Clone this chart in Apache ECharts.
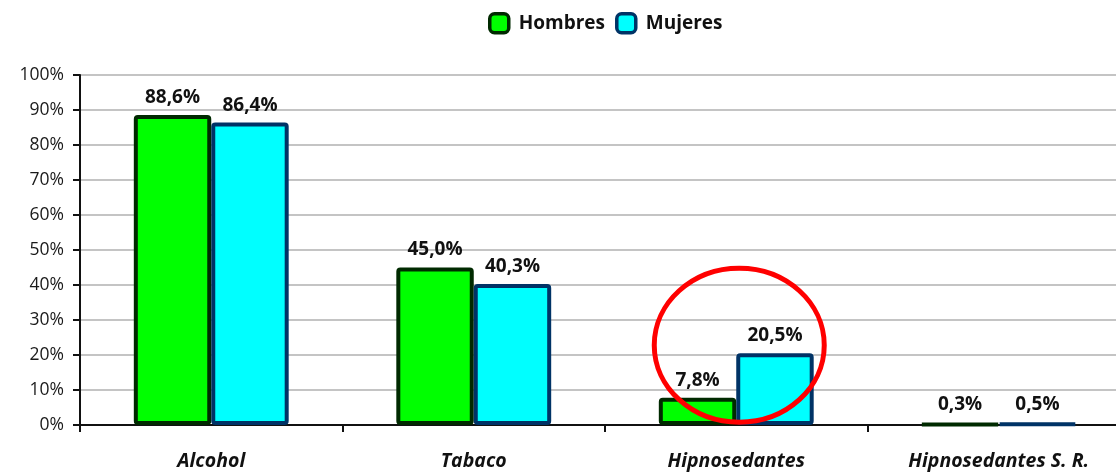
<!DOCTYPE html>
<html>
<head>
<meta charset="utf-8">
<script src="https://cdn.jsdelivr.net/npm/echarts@6/dist/echarts.min.js"></script>
<style>
  html, body { margin: 0; padding: 0; background: #ffffff; }
  #main { width: 1116px; height: 473px; }
</style>
</head>
<body>
<div id="main"></div>
<script>
const categories = ['Alcohol', 'Tabaco', 'Hipnosedantes', 'Hipnosedantes S. R.'];
const hombres = [88.6, 45.0, 7.8, 0.3];
const mujeres = [86.4, 40.3, 20.5, 0.5];
const yTicks = [0, 10, 20, 30, 40, 50, 60, 70, 80, 90, 100];

const fontFam = '"Open Sans", "Noto Sans", sans-serif';

function fmt(v) {
  return v.toFixed(1).replace('.', ',') + '%';
}

let myChart = echarts.init(document.getElementById('main'));
var option;

option = {
  animation: false,
  textStyle: { fontFamily: fontFam },
  legend: {
    left: 483,
    top: 7,
    itemWidth: 19,
    itemHeight: 19,
    itemGap: 10,
    icon: 'roundRect',
    data: ['Hombres', 'Mujeres'],
    itemStyle: { borderWidth: 3.5 },
    textStyle: {
      color: '#111111',
      fontSize: 19,
      fontWeight: 'bold',
      fontFamily: fontFam,
      padding: [0, 0, 0, 5]
    }
  },
  grid: {
    left: 80,
    right: -14,
    top: 75,
    bottom: 48,
    outerBoundsMode: 'none'
  },
  xAxis: {
    type: 'category',
    data: categories,
    axisLine: { lineStyle: { color: '#111111', width: 2 } },
    axisTick: { show: true, length: 7, lineStyle: { color: '#111111', width: 2 } },
    axisLabel: {
      margin: 26,
      color: '#111111',
      fontSize: 19.5,
      fontWeight: 'bold',
      fontStyle: 'italic',
      fontFamily: fontFam
    }
  },
  yAxis: {
    type: 'value',
    min: yTicks[0],
    max: yTicks[yTicks.length - 1],
    interval: 10,
    axisLine: { show: true, lineStyle: { color: '#111111', width: 2 } },
    axisTick: { show: true, length: 7, lineStyle: { color: '#111111', width: 2 } },
    splitLine: { lineStyle: { color: '#c4c4c4', width: 2 } },
    axisLabel: {
      margin: 16,
      color: '#1a1a1a',
      fontSize: 17.5,
      fontFamily: fontFam,
      formatter: function (v) { return v + '%'; }
    }
  },
  series: [{
    name: 'Hombres',
    type: 'bar',
    data: hombres,
    barGap: '0%',
    barCategoryGap: '41%',
    itemStyle: {
      color: '#00ff00',
      borderColor: '#002a00',
      borderWidth: 4,
      borderRadius: 2
    },
    label: {
      show: true,
      position: 'top',
      distance: 8,
      color: '#111111',
      fontSize: 19,
      fontWeight: 'bold',
      fontFamily: fontFam,
      formatter: function (p) { return fmt(p.value); }
    }
  }, {
    name: 'Mujeres',
    type: 'bar',
    data: mujeres,
    itemStyle: {
      color: '#00ffff',
      borderColor: '#003366',
      borderWidth: 4,
      borderRadius: 2
    },
    label: {
      show: true,
      position: 'top',
      distance: 8,
      color: '#111111',
      fontSize: 19,
      fontWeight: 'bold',
      fontFamily: fontFam,
      formatter: function (p) { return fmt(p.value); }
    }
  }]
};

myChart.setOption(option);

// red ellipse highlighting the Hipnosedantes pair
let c = myChart.convertToPixel({ gridIndex: 0 }, ['Hipnosedantes', 22.8]);
myChart.setOption({
  graphic: [{
    type: 'ellipse',
    shape: { cx: c[0] + 3, cy: c[1], rx: 85, ry: 77 },
    style: { fill: 'none', stroke: '#ff0000', lineWidth: 5 },
    z: 100
  }]
});

window.addEventListener('resize', function () {
  myChart.resize();
});
</script>
</body>
</html>
